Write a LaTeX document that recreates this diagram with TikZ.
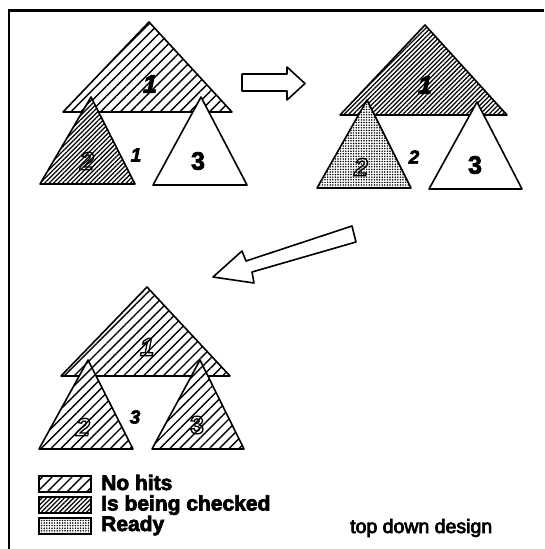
\documentclass[tikz,border=0pt]{standalone}
\usepackage{fontspec}
\setmainfont{Liberation Sans}
\usetikzlibrary{patterns.meta}
\tikzset{
  tri/.style={draw=black, line width=1.6pt, line join=round},
  nohitspat/.style={pattern={Lines[angle=45,distance=7pt,line width=1.4pt]}},
  checkpat/.style={pattern={Lines[angle=45,distance=3.2pt,line width=1.25pt]}},
  readypat/.style={pattern={Dots[distance=2.6pt,radius=0.85pt]}},
  nohits/.style={tri, preaction={fill=white}, nohitspat},
  checking/.style={tri, preaction={fill=white}, checkpat},
  ready/.style={tri, preaction={fill=white}, readypat},
  plain/.style={tri, fill=white},
  bigarrow/.style={draw=black, line width=1.6pt, line join=round, fill=white},
  legbox/.style={draw=black, line width=1.8pt},
  dig/.style={inner sep=0pt, font=\fontsize{25}{25}\selectfont\bfseries},
  idig/.style={dig, font=\fontsize{25}{25}\selectfont\bfseries\itshape},
  sdig/.style={inner sep=0pt, font=\fontsize{19}{19}\selectfont\bfseries\itshape},
  legtext/.style={inner sep=0pt, anchor=base west, font=\fontsize{21}{21}\selectfont\bfseries},
  captext/.style={inner sep=0pt, anchor=base west, font=\fontsize{19.5}{19.5}\selectfont},
}
\newcommand\strokedtext[1]{\special{pdf:code q 1 Tr 1.3 w}#1\special{pdf:code Q}}
\newcommand\heavytext[2]{\special{pdf:code q 2 Tr #1 w}#2\special{pdf:code Q}}
\begin{document}
\begin{tikzpicture}[x=1pt,y=-1pt]
\useasboundingbox (0,0) rectangle (544,549);
% frame
\draw[line width=2.4pt] (9,549) -- (9,10.5) -- (544,10.5);

% ---------- top left ----------
\draw[nohits] (149,22) -- (232,112) -- (63,112) -- cycle;
\draw[checking] (91,97) -- (135,184) -- (40,184) -- cycle;
\draw[plain] (201,97) -- (247,185) -- (153,185) -- cycle;
\node[idig] (tl1) at (150,84) {\heavytext{0.8}{1}};
\node[idig] (tl2) at (87,161) {\strokedtext{2}};
\node[dig] (tl3) at (198,161) {\heavytext{0.8}{3}};
\node[sdig] (tls) at (136,155) {\heavytext{0.6}{1}};

% right arrow
\draw[bigarrow] (242,74) -- (287,74) -- (287,67) -- (305,83.5) -- (287,100) -- (287,91) -- (242,91) -- cycle;

% ---------- top right ----------
\draw[checking] (425,25) -- (507,115) -- (340,115) -- cycle;
\draw[ready] (367,100) -- (411,188) -- (317,188) -- cycle;
\draw[plain] (477,102) -- (522,189) -- (429,189) -- cycle;
\node[idig] (tr1) at (425,85) {\heavytext{0.8}{1}};
\node[idig] (tr2) at (361,167) {\strokedtext{2}};
\node[dig] (tr3) at (475,165) {\heavytext{0.8}{3}};
\node[sdig] (trs) at (414,157) {\heavytext{0.6}{2}};

% diagonal arrow
\draw[bigarrow] (213,277) -- (242,251) -- (246,261) -- (352,226) -- (356,242) -- (252,272) -- (254,283) -- cycle;

% ---------- bottom ----------
\draw[nohits] (147,287) -- (230,376) -- (61,376) -- cycle;
\draw[nohits] (88,360) -- (133,449) -- (39,449) -- cycle;
\draw[nohits] (200,360) -- (244,449) -- (152,449) -- cycle;
\node[idig] (b1) at (147,347) {\strokedtext{1}};
\node[idig] (b2) at (83,427) {\strokedtext{2}};
\node[dig] (b3) at (197,425) {\strokedtext{3}};
\node[sdig] (bs) at (135,417) {\heavytext{0.6}{3}};

% ---------- legend ----------
\draw[legbox, nohitspat] (39,476) rectangle (91,492);
\draw[legbox, checkpat] (39,497) rectangle (91,513);
\draw[legbox, readypat] (39,518) rectangle (91,534);
\node[legtext] (l1) at (101,490) {\heavytext{0.7}{No hits}};
\node[legtext] (l2) at (101,510.5) {\heavytext{0.7}{Is being checked}};
\node[legtext] (l3) at (101,531) {\heavytext{0.7}{Ready}};
\node[captext] (cap) at (350,533) {\heavytext{0.7}{top down design}};
\end{tikzpicture}
\end{document}
